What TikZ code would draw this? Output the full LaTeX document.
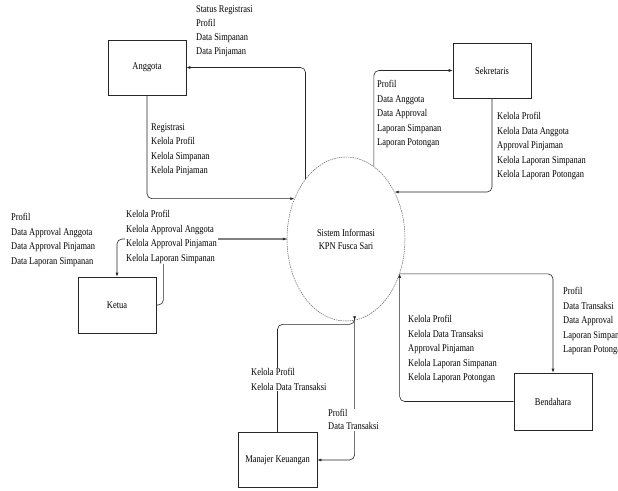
\documentclass[tikz,border=0pt]{standalone}
\usepackage{fontspec}
\setmainfont{Liberation Serif}[FakeStretch=0.82]
\usetikzlibrary{shapes.geometric,arrows.meta}
\begin{document}
\begin{tikzpicture}[x=1pt,y=-1pt,
  ent/.style={draw=black!85, line width=0.6pt, minimum width=78pt, minimum height=55pt, inner sep=0pt, font=\fontsize{10.3}{12}\selectfont},
  flow/.style={draw=black!85, line width=0.6pt, rounded corners=5pt, -{Latex[length=4pt,width=3pt]}},
  lbl/.style={fill=white, inner sep=1pt, anchor=north west, align=left, font=\fontsize{10.3}{14.5}\selectfont}]
\useasboundingbox (0,0) rectangle (618,490);
% entities
\node[ent] (ang) at (147,67.5) {Anggota};
\node[ent] (sek) at (492,70.5) {Sekretaris};
\node[ent, minimum height=56pt] (ket) at (117,305) {Ketua};
\node[ent, minimum height=57pt] (ben) at (553,401.5) {Bendahara};
\node[ent, minimum width=79pt] (man) at (277.5,460) {Manajer Keuangan};
\node[ellipse, draw=black!60, dash pattern=on 1.5pt off 0.8pt, line width=0.5pt, minimum width=118pt, minimum height=164pt, inner sep=0pt, align=center, font=\fontsize{10.3}{13}\selectfont] (sys) at (346,239) {Sistem Informasi\\KPN Fusca Sari};
% flows
\draw[flow] (ang.south) |- (sys.142);
\draw[flow] (sys.124) |- (ang.east);
\draw[flow] (sys.69) |- (sek.west);
\draw[flow] (sek.south) |- (sys.44);
\draw[flow] (ket.east) -- ++(7,0) |- (sys.west);
\draw[flow] (sys.west) -| (ket.north);
\draw[flow] (sys.-33) -| (ben.north);
\draw[flow] (ben.west) -| (sys.-33);
\draw[flow] (sys.-84) |- (man.east);
\draw[flow] (man.north) |- ([yshift=-4pt]sys.-84) -- (sys.-84);
% labels
\node[lbl, font=\fontsize{10.3}{14}\selectfont] (la1) at (195,4.3) {Status Registrasi\\Profil\\Data Simpanan\\Data Pinjaman};
\node[lbl] (la2) at (150,122.3) {Registrasi\\Kelola Profil\\Kelola Simpanan\\Kelola Pinjaman};
\node[lbl] (ls1) at (376,79.3) {Profil\\Data Anggota\\Data Approval\\Laporan Simpanan\\Laporan Potongan};
\node[lbl] (ls2) at (496,111.3) {Kelola Profil\\Kelola Data Anggota\\Approval Pinjaman\\Kelola Laporan Simpanan\\Kelola Laporan Potongan};
\node[lbl] (lk1) at (10,212.3) {Profil\\Data Approval Anggota\\Data Approval Pinjaman\\Data Laporan Simpanan};
\node[lbl] (lk2) at (125,209.3) {Kelola Profil\\Kelola Approval Anggota\\Kelola Approval Pinjaman\\Kelola Laporan Simpanan};
\node[lbl] (lb1) at (407,314.3) {Kelola Profil\\Kelola Data Transaksi\\Approval Pinjaman\\Kelola Laporan Simpanan\\Kelola Laporan Potongan};
\node[lbl] (lb2) at (562,286.3) {Profil\\Data Transaksi\\Data Approval\\Laporan Simpanan\\Laporan Potongan};
\node[lbl] (lm1) at (250,367.3) {Kelola Profil\\Kelola Data Transaksi};
\node[lbl, font=\fontsize{10.3}{13}\selectfont] (lm2) at (327,408.3) {Profil\\Data Transaksi};
\end{tikzpicture}
\end{document}
